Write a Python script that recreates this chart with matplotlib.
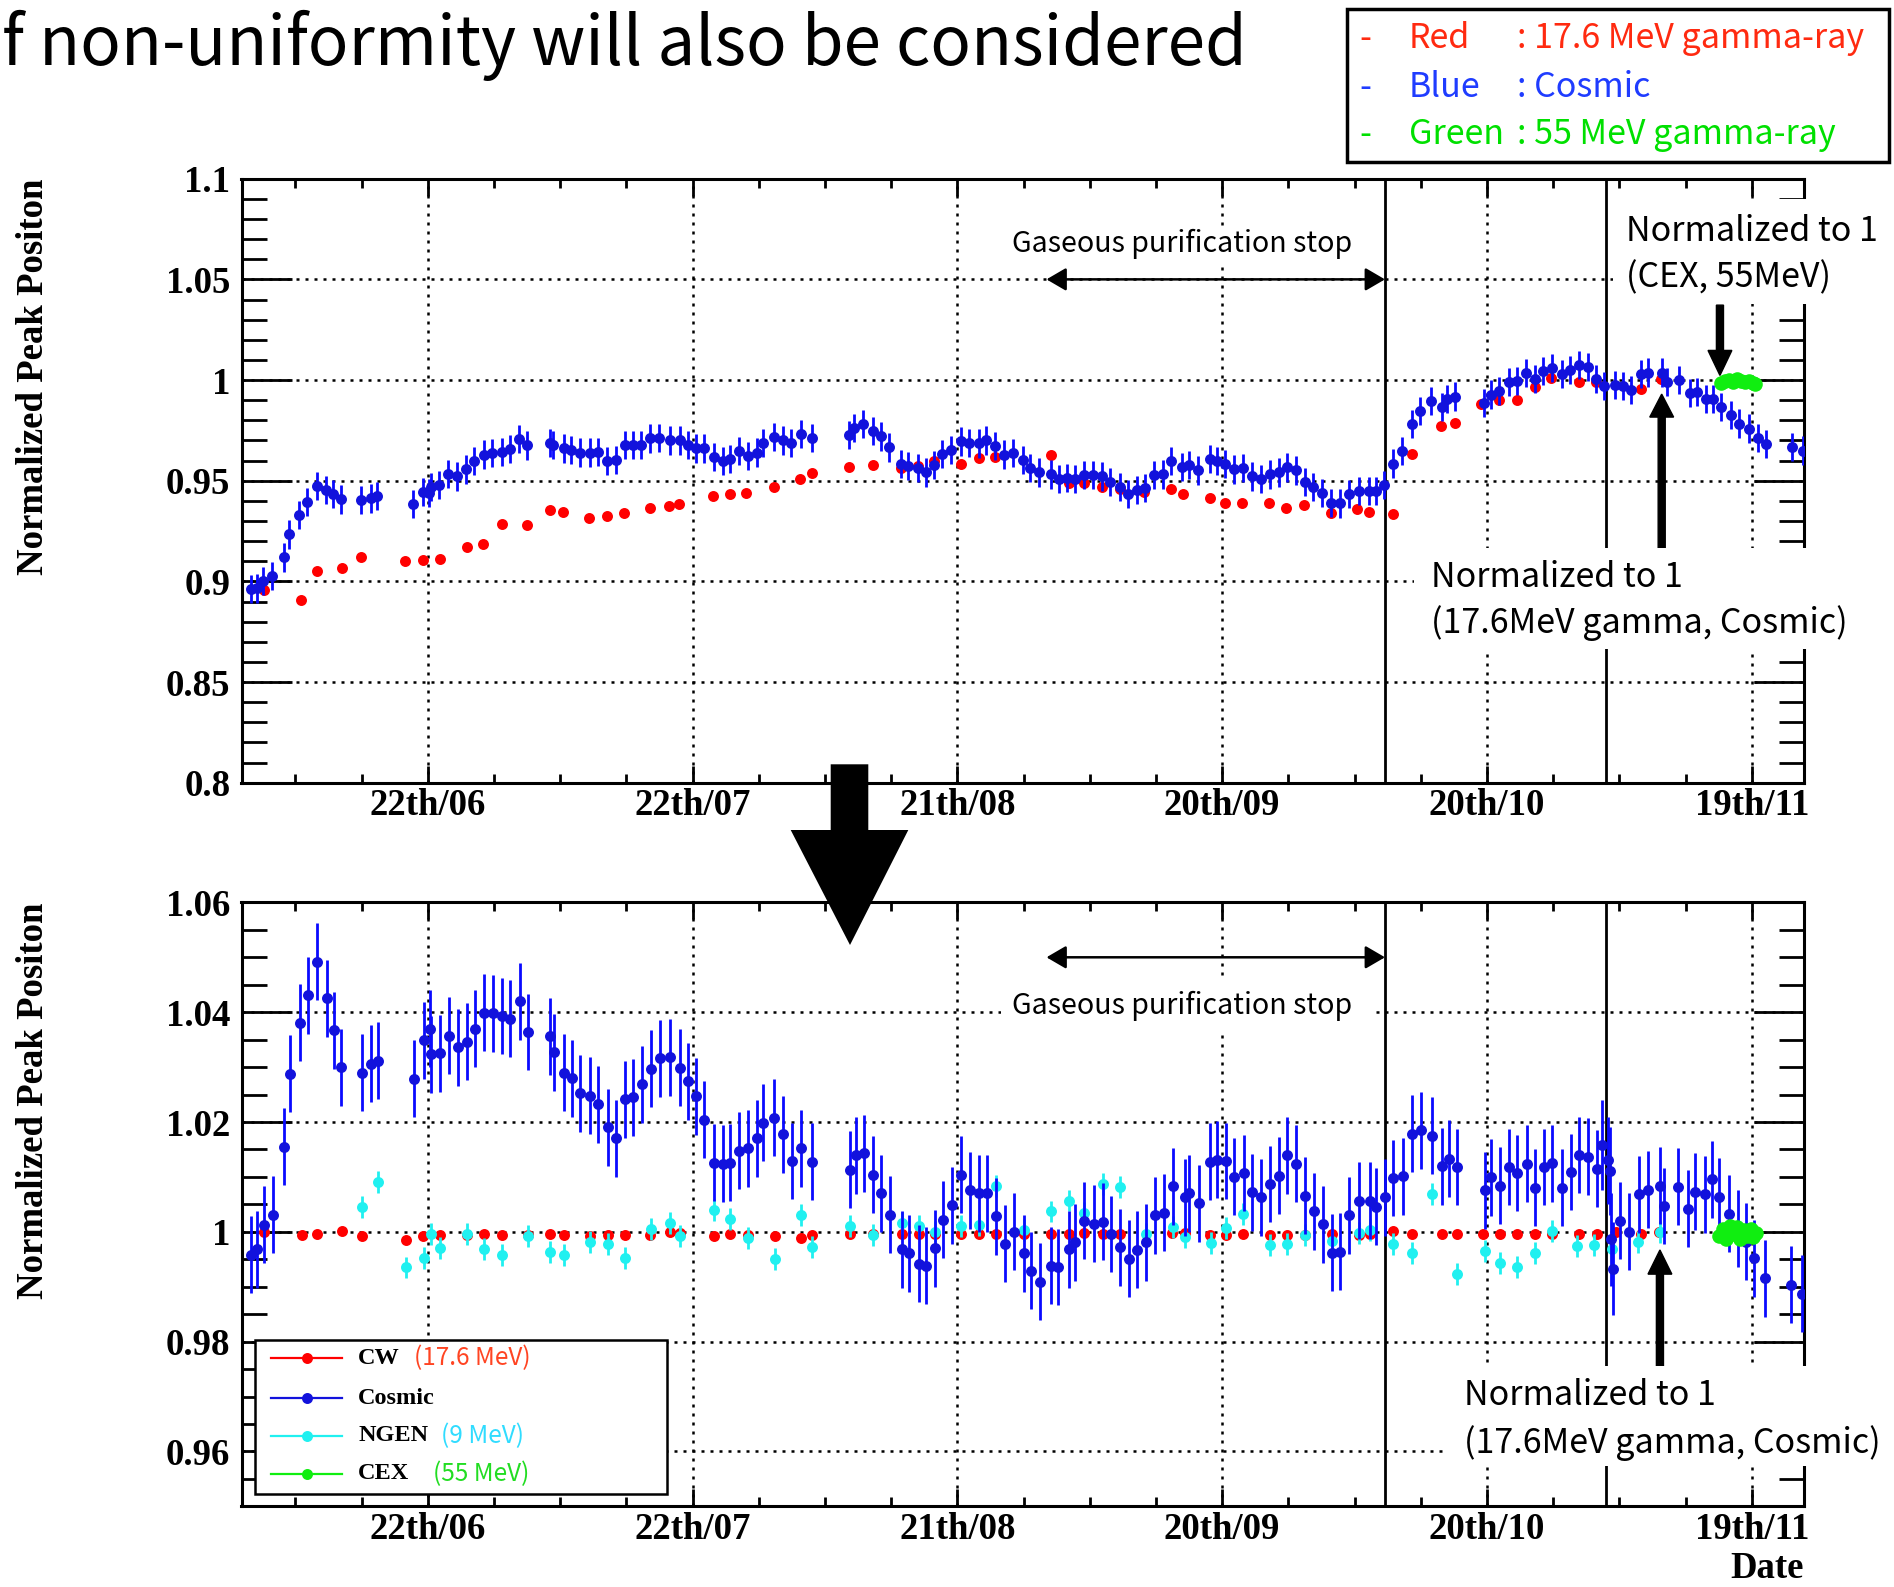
import matplotlib.pyplot as plt
import numpy as np
from matplotlib.lines import Line2D
from matplotlib.patches import FancyArrow, Polygon, Rectangle

OUT_PATH = "out.png"
FIG_W, FIG_H = 1894, 1587

# x axis is in days counted from 22 June
DATE_TICKS = [0, 30, 60, 90, 120, 150]
DATE_LABELS = ["22th/06", "22th/07", "21th/08", "20th/09", "20th/10", "19th/11"]
X_RANGE = (-21.1, 155.9)
PURIFICATION_STOP = (70.1, 108.45)
RUN_BOUNDARIES = [108.45, 133.5]

TOP_Y_TICKS = [0.8, 0.85, 0.9, 0.95, 1.0, 1.05, 1.1]
TOP_Y_LABELS = ["0.8", "0.85", "0.9", "0.95", "1", "1.05", "1.1"]
BOT_Y_TICKS = [0.96, 0.98, 1.0, 1.02, 1.04, 1.06]
BOT_Y_LABELS = ["0.96", "0.98", "1", "1.02", "1.04", "1.06"]

# ---- upper panel: raw peak positions ----
TOP_COSMIC_DAY = [
    -20.0, -19.4, -18.7, -17.6, -16.3, -15.7, -14.6, -13.7, -12.5, -11.5, -10.7, -9.8,
    -7.6, -6.4, -5.7, -1.7, -0.5, 0.1, 0.4, 1.3, 2.3, 3.3, 4.3, 5.2, 6.4, 7.3, 8.4, 9.3,
    10.3, 11.3, 13.8, 14.2, 15.4, 16.2, 17.2, 18.4, 19.3, 20.3, 21.3, 22.3, 23.3, 24.2,
    25.2, 26.2, 27.4, 28.6, 29.5, 30.4, 31.3, 32.4, 33.5, 34.2, 35.3, 36.3, 37.3, 38.0,
    39.2, 40.2, 41.2, 42.3, 43.5, 47.7, 48.3, 49.3, 50.4, 51.3, 52.3, 53.6, 54.4, 55.6,
    56.4, 57.4, 58.3, 59.3, 60.4, 61.3, 62.4, 63.3, 64.3, 65.3, 66.3, 67.4, 68.2, 69.3,
    70.6, 71.5, 72.4, 73.3, 74.4, 75.4, 76.4, 77.3, 78.4, 79.3, 80.3, 81.3, 82.3, 83.3,
    84.2, 85.5, 86.2, 87.3, 88.6, 89.4, 90.3, 91.4, 92.4, 93.4, 94.4, 95.4, 96.4, 97.3,
    98.4, 99.4, 100.3, 101.3, 102.3, 103.4, 104.4, 105.5, 106.6, 107.4, 108.3, 109.4,
    110.4, 111.5, 112.4, 113.7, 114.9, 115.5, 116.4, 119.7, 120.5, 121.4, 122.5, 123.4,
    124.4, 125.4, 126.3, 127.4, 128.5, 129.4, 130.4, 131.4, 132.4, 133.3, 134.5, 135.4,
    136.3, 137.4, 138.3, 139.8, 140.4, 141.8, 143.0, 143.8, 144.8, 145.6, 146.5, 147.7,
    148.6, 149.7, 150.7, 151.6, 154.6, 155.8,
]
TOP_COSMIC_VAL = [
    0.8961, 0.8965, 0.9000, 0.9027, 0.9119, 0.9233, 0.9329, 0.9393, 0.9473, 0.9455, 0.9432, 0.9407,
    0.9403, 0.9412, 0.9424, 0.9383, 0.9442, 0.9438, 0.9469, 0.9479, 0.9535, 0.9521, 0.9556, 0.9597,
    0.9630, 0.9638, 0.9644, 0.9658, 0.9706, 0.9675, 0.9689, 0.9679, 0.9660, 0.9654, 0.9640, 0.9640,
    0.9644, 0.9599, 0.9603, 0.9679, 0.9679, 0.9679, 0.9710, 0.9712, 0.9700, 0.9700, 0.9679, 0.9660,
    0.9660, 0.9617, 0.9599, 0.9609, 0.9648, 0.9623, 0.9640, 0.9689, 0.9716, 0.9700, 0.9689, 0.9733,
    0.9712, 0.9726, 0.9761, 0.9782, 0.9747, 0.9720, 0.9665, 0.9582, 0.9572, 0.9562, 0.9541, 0.9576,
    0.9634, 0.9654, 0.9695, 0.9689, 0.9685, 0.9700, 0.9671, 0.9630, 0.9638, 0.9603, 0.9562, 0.9541,
    0.9531, 0.9510, 0.9514, 0.9510, 0.9527, 0.9527, 0.9521, 0.9494, 0.9469, 0.9432, 0.9455, 0.9463,
    0.9527, 0.9531, 0.9597, 0.9568, 0.9576, 0.9551, 0.9609, 0.9597, 0.9582, 0.9556, 0.9562, 0.9521,
    0.9510, 0.9531, 0.9541, 0.9566, 0.9551, 0.9494, 0.9469, 0.9438, 0.9391, 0.9387, 0.9432, 0.9449,
    0.9449, 0.9449, 0.9479, 0.9585, 0.9646, 0.9780, 0.9848, 0.9897, 0.9866, 0.9907, 0.9918, 0.9887,
    0.9928, 0.9944, 0.9990, 0.9996, 1.0033, 1.0006, 1.0043, 1.0058, 1.0031, 1.0051, 1.0074, 1.0064,
    1.0006, 0.9969, 0.9975, 0.9969, 0.9949, 1.0031, 1.0037, 1.0037, 0.9992, 1.0002, 0.9934, 0.9940,
    0.9907, 0.9907, 0.9866, 0.9825, 0.9784, 0.9759, 0.9714, 0.9681, 0.9667, 0.9650,
]
TOP_CW_DAY = [
    -18.6, -14.4, -12.5, -9.7, -7.6, -2.6, -0.5, 1.4, 4.4, 6.3, 8.4, 11.3, 13.8, 15.3, 18.3,
    20.3, 22.2, 25.2, 27.3, 28.5, 32.3, 34.2, 36.1, 39.2, 42.2, 43.5, 47.7, 50.4, 53.6, 55.5,
    57.4, 60.4, 62.4, 64.3, 70.6, 72.6, 74.4, 76.4, 78.4, 81.2, 84.2, 85.6, 88.6, 90.3, 92.3,
    95.3, 97.2, 99.3, 102.3, 105.3, 106.6, 109.4, 111.5, 114.8, 116.4, 119.3, 121.4, 123.4,
    125.4, 127.3, 130.4, 132.4, 137.4, 139.7,
]
TOP_CW_VAL = [
    0.8955, 0.8907, 0.9051, 0.9064, 0.9119, 0.9099, 0.9105, 0.9113, 0.9171, 0.9187, 0.9284,
    0.9280, 0.9352, 0.9346, 0.9315, 0.9325, 0.9340, 0.9366, 0.9374, 0.9385, 0.9422, 0.9432,
    0.9438, 0.9467, 0.9506, 0.9537, 0.9568, 0.9576, 0.9562, 0.9572, 0.9597, 0.9582, 0.9613,
    0.9617, 0.9628, 0.9490, 0.9490, 0.9469, 0.9459, 0.9442, 0.9459, 0.9432, 0.9412, 0.9391,
    0.9391, 0.9387, 0.9366, 0.9381, 0.9342, 0.9360, 0.9346, 0.9335, 0.9632, 0.9770, 0.9788,
    0.9883, 0.9903, 0.9903, 0.9965, 1.0010, 0.9992, 0.9992, 0.9955, 1.0006,
]
TOP_CEX_DAY = [146.5, 147.0, 147.4, 147.9, 148.3, 148.8, 149.2, 149.7, 150.1, 150.4]
TOP_CEX_VAL = [0.9985, 0.9995, 1.0002, 0.9990, 1.0006, 0.9996, 0.9988, 0.9993, 0.9985, 0.9982]

# ---- lower panel: after correction ----
BOT_COSMIC_DAY = [
    -20.0, -19.4, -18.6, -17.5, -16.3, -15.6, -14.5, -13.6, -12.5, -11.4, -10.6, -9.8,
    -7.5, -6.4, -5.6, -1.6, -0.4, 0.3, 0.4, 1.4, 2.4, 3.4, 4.4, 5.3, 6.4, 7.4, 8.4, 9.3,
    10.4, 11.4, 13.8, 14.3, 15.4, 16.3, 17.3, 18.4, 19.3, 20.4, 21.3, 22.3, 23.3, 24.3,
    25.3, 26.3, 27.4, 28.6, 29.5, 30.4, 31.3, 32.4, 33.5, 34.3, 35.3, 36.3, 37.3, 38.0,
    39.2, 40.3, 41.3, 42.3, 43.5, 47.8, 48.5, 49.4, 50.5, 51.4, 52.4, 53.7, 54.5, 55.7,
    56.5, 57.5, 58.4, 59.4, 60.4, 61.4, 62.5, 63.4, 64.4, 65.4, 66.4, 67.5, 68.4, 69.4,
    70.6, 71.4, 72.6, 73.3, 74.4, 75.5, 76.5, 77.4, 78.4, 79.4, 80.4, 81.4, 82.4, 83.4,
    84.4, 85.8, 86.3, 87.4, 88.6, 89.4, 90.4, 91.4, 92.5, 93.4, 94.4, 95.4, 96.4, 97.4,
    98.4, 99.4, 100.4, 101.4, 102.4, 103.4, 104.4, 105.5, 106.8, 107.4, 108.4, 109.4,
    110.5, 111.5, 112.5, 113.8, 114.9, 115.7, 116.6, 119.8, 120.5, 121.5, 122.5, 123.4,
    124.5, 125.5, 126.5, 127.4, 128.5, 129.5, 130.4, 131.5, 132.5, 135.1, 136.1, 137.2,
    138.2, 139.6, 140.1, 141.6, 142.8, 143.6, 144.7, 145.5, 146.3, 147.4, 148.4, 149.4,
    150.3, 151.5, 154.4, 155.7,
]
BOT_COSMIC_VAL = [
    0.9958, 0.9968, 1.0013, 1.0031, 1.0155, 1.0288, 1.0381, 1.0431, 1.0492, 1.0425, 1.0367, 1.0300,
    1.0290, 1.0306, 1.0312, 1.0279, 1.0349, 1.0370, 1.0323, 1.0325, 1.0357, 1.0336, 1.0346, 1.0370,
    1.0399, 1.0398, 1.0393, 1.0388, 1.0420, 1.0364, 1.0356, 1.0327, 1.0290, 1.0280, 1.0252, 1.0248,
    1.0232, 1.0190, 1.0170, 1.0241, 1.0245, 1.0269, 1.0297, 1.0316, 1.0318, 1.0299, 1.0274, 1.0247,
    1.0204, 1.0126, 1.0124, 1.0126, 1.0148, 1.0152, 1.0170, 1.0199, 1.0208, 1.0178, 1.0129, 1.0152,
    1.0128, 1.0113, 1.0139, 1.0143, 1.0104, 1.0070, 1.0031, 0.9968, 0.9961, 0.9942, 0.9938, 0.9970,
    1.0022, 1.0048, 1.0104, 1.0076, 1.0070, 1.0070, 1.0028, 0.9978, 1.0000, 0.9961, 0.9929, 0.9909,
    0.9938, 0.9936, 0.9968, 0.9981, 1.0020, 1.0015, 1.0018, 0.9996, 0.9972, 0.9951, 0.9967, 0.9981,
    1.0030, 1.0035, 1.0083, 1.0063, 1.0070, 1.0052, 1.0128, 1.0131, 1.0129, 1.0100, 1.0107, 1.0072,
    1.0063, 1.0087, 1.0102, 1.0139, 1.0124, 1.0066, 1.0037, 1.0014, 0.9962, 0.9964, 1.0030, 1.0057,
    1.0057, 1.0046, 1.0063, 1.0098, 1.0101, 1.0179, 1.0185, 1.0175, 1.0119, 1.0133, 1.0118, 1.0076,
    1.0099, 1.0084, 1.0118, 1.0107, 1.0124, 1.0080, 1.0118, 1.0125, 1.0080, 1.0109, 1.0140, 1.0137,
    1.0115, 1.0020, 1.0000, 1.0068, 1.0077, 1.0084, 1.0047, 1.0082, 1.0042, 1.0073, 1.0068, 1.0096,
    1.0064, 1.0033, 1.0006, 0.9982, 0.9952, 0.9915, 0.9904, 0.9887,
]
# runs right at the second boundary carry larger errors
BOT_COSMIC_EDGE_DAY = [133.0, 133.7, 133.9, 134.1, 134.3]
BOT_COSMIC_EDGE_VAL = [1.0158, 1.0130, 1.0111, 0.9986, 0.9933]
BOT_COSMIC_EDGE_ERR = [0.0082, 0.0080, 0.0080, 0.0085, 0.0085]

BOT_CW_DAY = [
    -18.6, -14.3, -12.5, -9.7, -7.5, -2.5, -0.5, 1.4, 4.4, 6.4, 8.4, 11.4, 13.8, 15.4, 18.4,
    20.4, 22.3, 25.2, 27.4, 28.6, 32.4, 34.3, 36.3, 39.3, 42.3, 43.5, 47.8, 50.5, 53.7, 55.7,
    57.5, 60.4, 62.4, 64.4, 67.5, 70.6, 72.6, 74.4, 76.5, 78.4, 84.3, 85.8, 88.6, 90.4, 92.4,
    95.4, 97.4, 99.4, 102.4, 105.5, 106.8, 109.4, 111.5, 114.9, 116.6, 119.5, 121.5, 123.4,
    125.5, 127.4, 130.4, 132.5, 134.6, 137.4, 139.5,
]
BOT_CW_VAL = [
    1.0000, 0.9994, 0.9996, 1.0002, 0.9993, 0.9985, 0.9993, 0.9994, 0.9994, 0.9996, 0.9994,
    0.9994, 0.9996, 0.9994, 0.9993, 0.9994, 0.9994, 0.9994, 1.0000, 0.9998, 0.9993, 0.9996,
    0.9994, 0.9993, 0.9989, 0.9994, 0.9996, 0.9996, 0.9996, 0.9996, 0.9996, 0.9996, 0.9996,
    0.9996, 0.9996, 0.9996, 0.9996, 0.9997, 0.9996, 0.9996, 0.9997, 0.9997, 0.9994, 0.9994,
    0.9996, 0.9994, 0.9994, 0.9994, 0.9996, 0.9994, 0.9996, 1.0002, 0.9996, 0.9996, 0.9996,
    0.9996, 0.9996, 0.9996, 0.9996, 0.9996, 0.9996, 0.9996, 1.0000, 0.9996, 1.0000,
]
BOT_NGEN_DAY = [
    -7.5, -5.6, -2.5, -0.4, 0.4, 1.4, 4.4, 6.4, 8.4, 11.4, 13.8, 15.4, 18.4, 20.4, 22.3,
    25.3, 27.4, 28.6, 32.4, 34.3, 36.3, 39.3, 42.3, 43.5, 47.8, 50.5, 53.7, 55.7, 57.5, 60.4,
    62.5, 64.4, 67.5, 70.6, 72.6, 74.4, 76.5, 78.4, 81.4, 84.4, 85.8, 88.7, 90.4, 92.4, 95.4,
    97.4, 99.4, 102.4, 105.5, 106.8, 109.4, 111.5, 113.8, 116.6, 119.8, 121.5, 123.4, 125.5,
    127.4, 130.2, 132.1, 134.2, 137.1, 139.6,
]
BOT_NGEN_VAL = [
    1.0046, 1.0091, 0.9935, 0.9953, 0.9996, 0.9970, 0.9996, 0.9968, 0.9957, 0.9993, 0.9963,
    0.9957, 0.9981, 0.9978, 0.9953, 1.0005, 1.0016, 0.9992, 1.0039, 1.0024, 0.9988, 0.9951,
    1.0030, 0.9973, 1.0010, 0.9994, 1.0016, 1.0010, 1.0000, 1.0010, 1.0013, 1.0083, 1.0003,
    1.0037, 1.0057, 1.0035, 1.0087, 1.0082, 0.9996, 1.0009, 0.9990, 0.9979, 1.0007, 1.0033,
    0.9976, 0.9977, 0.9994, 0.9983, 0.9998, 1.0003, 0.9977, 0.9961, 1.0068, 0.9924, 0.9965,
    0.9944, 0.9936, 0.9961, 1.0002, 0.9974, 0.9976, 0.9968, 0.9982, 0.9999,
]
BOT_CEX_DAY = [146.3, 146.7, 147.1, 147.5, 147.9, 148.3, 148.7, 149.1, 149.5, 149.9, 150.2, 150.5]
BOT_CEX_VAL = [0.9992, 1.0006, 0.9986, 1.0011, 0.9996, 1.0009, 0.9987, 1.0003, 0.9993, 1.0006, 0.9990, 0.9998]

COSMIC_ERR = 0.007
NGEN_ERR = 0.002

RED = "#ff0000"
BLUE = "#1212dc"
BLUE_BAR = "#0a0aff"
CYAN = "#20f0f0"
GREEN = "#10ee10"

SLIDE_FONT = ["Noto Sans CJK JP", "DejaVu Sans"]
PLOT_FONT = "Liberation Serif"
LABEL_SIZE = 26.5
MS = 7.9
CEX_MS = 10.5
NOTE_SIZE = 24.5


def fx(x):
    return x / FIG_W


def fy(y):
    return 1 - y / FIG_H


def white_box(fig, x0, y0, x1, y1):
    fig.add_artist(Rectangle((fx(x0), fy(y1)), fx(x1) - fx(x0), fy(y0) - fy(y1),
                             transform=fig.transFigure, facecolor="white",
                             edgecolor="none", zorder=5))


def slide_text(fig, x, y, s, size, color="black", ha="left"):
    fig.text(fx(x), fy(y), s, fontsize=size, color=color, ha=ha, va="baseline",
             family=SLIDE_FONT, fontweight="normal", zorder=6)


def setup_axes(ax, ylim, yticks, ylabels, yminor):
    ax.set_xlim(*X_RANGE)
    ax.set_ylim(*ylim)
    ax.set_xticks(DATE_TICKS, DATE_LABELS)
    ax.set_xticks(np.arange(-15, 156, 7.5), minor=True)
    ax.set_yticks(yticks, ylabels)
    ax.set_yticks(np.arange(ylim[0], ylim[1] + 1e-9, yminor), minor=True)
    ax.grid(True, which="major", color="black", linestyle=(0, (1.2, 2.4)), linewidth=1.8)
    for spine in ax.spines.values():
        spine.set_linewidth(2.2)
    ax.tick_params(axis="y", which="major", direction="in", length=36, width=2,
                   left=True, right=True, labelsize=LABEL_SIZE, pad=8)
    ax.tick_params(axis="y", which="minor", direction="in", length=18, width=2,
                   left=True, right=True)
    ax.tick_params(axis="x", which="major", direction="in", length=12, width=2,
                   top=True, bottom=True, labelsize=LABEL_SIZE, pad=4)
    ax.tick_params(axis="x", which="minor", direction="in", length=6.5, width=2,
                   top=True, bottom=True)
    for x in RUN_BOUNDARIES:
        ax.axvline(x, color="black", linewidth=2)


def stop_arrow(ax):
    ax.annotate("", xy=(PURIFICATION_STOP[0], 1.05), xytext=(PURIFICATION_STOP[1], 1.05),
                arrowprops=dict(arrowstyle="<|-|>,head_length=0.6,head_width=0.35",
                                mutation_scale=20, lw=1.8, color="black",
                                shrinkA=0, shrinkB=0))


def vertical_arrow(ax, x, y_tail, y_tip, head_len):
    ax.add_patch(FancyArrow(x, y_tail, 0, y_tip - y_tail, width=0.8, head_width=2.7,
                            head_length=head_len, length_includes_head=True,
                            color="black", zorder=6))


def cosmic_points(ax, days, vals, err):
    ax.errorbar(days, vals, yerr=err, fmt="o", color=BLUE, ecolor=BLUE_BAR, ms=MS,
                mew=0, elinewidth=2.0, capsize=3.6, capthick=2.0, zorder=4)


def draw_top(ax):
    setup_axes(ax, (0.8, 1.1), TOP_Y_TICKS, TOP_Y_LABELS, 0.01)
    ax.plot(TOP_CW_DAY, TOP_CW_VAL, "o", color=RED, ms=MS, mew=0, zorder=3)
    cosmic_points(ax, TOP_COSMIC_DAY, TOP_COSMIC_VAL, COSMIC_ERR)
    ax.plot(TOP_CEX_DAY, TOP_CEX_VAL, "o", color=GREEN, ms=CEX_MS, mew=0, zorder=5)
    stop_arrow(ax)
    vertical_arrow(ax, 146.4, 1.0372, 1.0023, 0.0124)
    vertical_arrow(ax, 139.8, 0.9165, 0.9930, 0.0114)


def draw_bottom(ax):
    setup_axes(ax, (0.95, 1.06), BOT_Y_TICKS, BOT_Y_LABELS, 0.005)
    ax.plot(BOT_CW_DAY, BOT_CW_VAL, "o", color=RED, ms=MS, mew=0, zorder=3)
    ax.errorbar(BOT_NGEN_DAY, BOT_NGEN_VAL, yerr=NGEN_ERR, fmt="o", color=CYAN,
                ecolor=CYAN, ms=MS, mew=0, elinewidth=2.0, capsize=3.6,
                capthick=2.0, zorder=3.5)
    cosmic_points(ax, BOT_COSMIC_DAY, BOT_COSMIC_VAL, COSMIC_ERR)
    cosmic_points(ax, BOT_COSMIC_EDGE_DAY, BOT_COSMIC_EDGE_VAL, BOT_COSMIC_EDGE_ERR)
    ax.plot(BOT_CEX_DAY, BOT_CEX_VAL, "o", color=GREEN, ms=CEX_MS, mew=0, zorder=5)
    stop_arrow(ax)
    vertical_arrow(ax, 139.6, 0.97556, 0.99669, 0.0044)


def draw_legend(fig):
    fig.add_artist(Rectangle((fx(255), fy(1493.5)), fx(667.4) - fx(255),
                             fy(1340.4) - fy(1493.5), transform=fig.transFigure,
                             facecolor="white", edgecolor="black", linewidth=1.8,
                             zorder=5))
    entries = [
        ("CW", RED, "(17.6 MeV)", "#ff4422", 413.7, 1358.4),
        ("Cosmic", BLUE, None, None, 0, 1398.4),
        ("NGEN", CYAN, "(9 MeV)", "#30dcff", 440.5, 1435.9),
        ("CEX", GREEN, "(55 MeV)", "#22dd22", 432.8, 1473.9),
    ]
    for name, color, note, note_color, note_x, y in entries:
        fig.add_artist(Line2D([fx(271), fx(342)], [fy(y), fy(y)], color=color,
                              linewidth=1.6, transform=fig.transFigure, zorder=6))
        fig.add_artist(Line2D([fx(306.5)], [fy(y)], marker="o", ms=MS, mew=0,
                              color=color, transform=fig.transFigure, zorder=6))
        fig.text(fx(358.2), fy(y), name, fontsize=17.5, fontweight="bold",
                 family=PLOT_FONT, va="center", ha="left", zorder=6)
        if note:
            fig.text(fx(note_x), fy(y), note, fontsize=17.5, color=note_color,
                     family=SLIDE_FONT, fontweight="normal", va="center",
                     ha="left", zorder=6)


def draw_slide_overlay(fig):
    slide_text(fig, 2, 65, "f non-uniformity will also be considered", 48.5)

    # colour key in the upper right
    fig.add_artist(Rectangle((fx(1347), fy(162)), fx(1889) - fx(1347), fy(9) - fy(162),
                             transform=fig.transFigure, facecolor="white",
                             edgecolor="black", linewidth=2.5, zorder=5))
    key = [
        ("Red", ": 17.6 MeV gamma-ray", "#ff2a10", 48.3),
        ("Blue", ": Cosmic", "#1f3cff", 96.7),
        ("Green", ": 55 MeV gamma-ray", "#00e000", 144.0),
    ]
    for name, desc, color, y in key:
        slide_text(fig, 1359, y, "-", 24.5, color)
        slide_text(fig, 1409, y, name, 24.5, color)
        slide_text(fig, 1517, y, desc, 24.5, color)

    # notes on the upper panel
    white_box(fig, 1008, 226, 1356, 262)
    slide_text(fig, 1181.8, 252, "Gaseous purification stop", 20.6, ha="center")
    white_box(fig, 1613, 199, 1894, 304)
    slide_text(fig, 1626, 241, "Normalized to 1", NOTE_SIZE)
    slide_text(fig, 1626, 287.7, "(CEX, 55MeV)", NOTE_SIZE)
    white_box(fig, 1414, 548, 1894, 649)
    slide_text(fig, 1430.5, 587, "Normalized to 1", NOTE_SIZE)
    slide_text(fig, 1430.5, 632.6, "(17.6MeV gamma, Cosmic)", NOTE_SIZE)

    # notes on the lower panel
    white_box(fig, 1001, 980, 1376, 1031)
    slide_text(fig, 1181.8, 1014, "Gaseous purification stop", 20.6, ha="center")
    white_box(fig, 1447, 1366, 1894, 1466)
    slide_text(fig, 1464.5, 1405.2, "Normalized to 1", NOTE_SIZE)
    slide_text(fig, 1464.5, 1452.6, "(17.6MeV gamma, Cosmic)", NOTE_SIZE)

    # big arrow from the raw panel to the corrected one
    shape = [(830.7, 764.3), (868.3, 764.3), (868.3, 830), (908.3, 830), (850, 945),
             (790.7, 830), (830.7, 830)]
    fig.add_artist(Polygon([(fx(x), fy(y)) for x, y in shape], closed=True,
                           transform=fig.transFigure, facecolor="black",
                           edgecolor="none", zorder=7))


def main():
    plt.rcParams["font.family"] = PLOT_FONT
    plt.rcParams["font.weight"] = "bold"

    fig = plt.figure(figsize=(FIG_W / 100, FIG_H / 100), dpi=100)
    ax_top = fig.add_axes([fx(241.5), fy(782.7), fx(1803.8) - fx(241.5), fy(178.7) - fy(782.7)])
    ax_bot = fig.add_axes([fx(241.5), fy(1506.3), fx(1803.8) - fx(241.5), fy(902.4) - fy(1506.3)])

    draw_top(ax_top)
    draw_bottom(ax_bot)

    for y_top in (178.7, 902.4):
        fig.text(fx(33.8), fy(y_top), "Normalized Peak Positon", rotation=90,
                 ha="center", va="top", fontsize=LABEL_SIZE, fontweight="bold")
    fig.text(fx(1803.8), fy(1568), "Date", ha="right", va="center",
             fontsize=LABEL_SIZE, fontweight="bold")

    draw_legend(fig)
    draw_slide_overlay(fig)

    fig.savefig(OUT_PATH, dpi=100)
    plt.close(fig)


if __name__ == "__main__":
    main()
